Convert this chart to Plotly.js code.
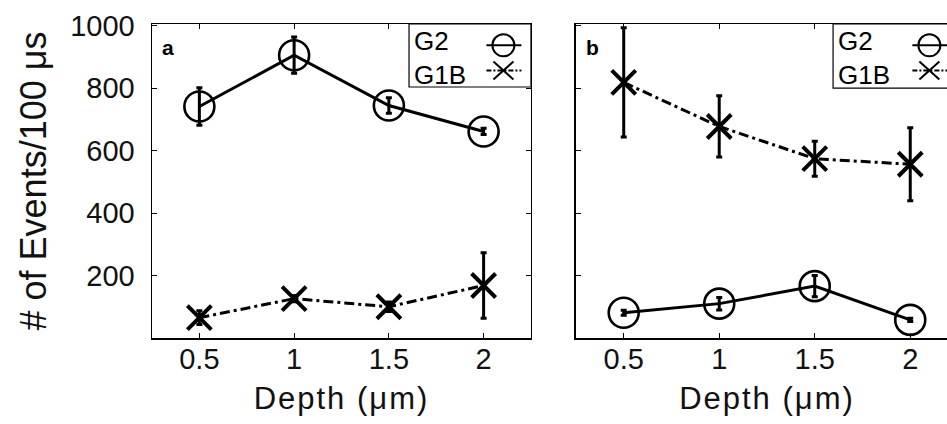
<!DOCTYPE html>
<html>
<head>
<meta charset="utf-8">
<script src="https://cdn.plot.ly/plotly-3.0.1.min.js"></script>
<style>
html, body { margin: 0; padding: 0; overflow: hidden; background: #fff; width: 947px; height: 424px; }
#chart { width: 960px; height: 424px; }
.g-xtitle text, .g-x2title text { letter-spacing: 2px; }
</style>
</head>
<body>
<div id="chart"></div>
<script>
// ---- data ----
const depth = [0.5, 1, 1.5, 2];
const depthTicks = [0.5, 1, 1.5, 2];
const depthTickText = ['0.5', '1', '1.5', '2'];
const countTicks = [200, 400, 600, 800, 1000];

// panel a
const aG2 = [741, 905, 744, 661];
const aG2Err = [60, 58, 25, 10];
const aG1B = [65, 126, 100, 168];
const aG1BErr = [22, 10, 15, 105];

// panel b
const bG2 = [81, 110, 166, 58];
const bG2Err = [8, 20, 34, 5];
const bG1B = [818, 677, 574, 556];
const bG1BErr = [175, 98, 56, 117];

const seriesNames = ['G2', 'G1B'];
const panelLabels = ['a', 'b'];

// ---- styles ----
const FONT = 'Liberation Sans, Arial, sans-serif';
const dashDot = '10px,4px,3px,4px';

function g2Trace(y, err, xa, ya) {
  return {
    x: depth, y: y, xaxis: xa, yaxis: ya, type: 'scatter', mode: 'lines+markers',
    name: seriesNames[0], showlegend: false,
    line: {color: '#000', width: 3},
    marker: {symbol: 'circle-open', size: 30, color: '#000', line: {width: 2.6, color: '#000'}},
    error_y: {type: 'data', array: err, visible: true, color: '#000', thickness: 3, width: 3}
  };
}
function g1bTrace(y, err, xa, ya) {
  return {
    x: depth, y: y, xaxis: xa, yaxis: ya, type: 'scatter', mode: 'lines+markers',
    name: seriesNames[1], showlegend: false,
    line: {color: '#000', width: 3, dash: dashDot},
    marker: {symbol: 'x-thin-open', size: 24, color: '#000', line: {width: 4, color: '#000'}},
    error_y: {type: 'data', array: err, visible: true, color: '#000', thickness: 3, width: 3}
  };
}

const traces = [
  g2Trace(aG2, aG2Err, 'x', 'y'),
  g1bTrace(aG1B, aG1BErr, 'x', 'y'),
  g1bTrace(bG1B, bG1BErr, 'x2', 'y2'),
  g2Trace(bG2, bG2Err, 'x2', 'y2')
];

const axBase = {
  showline: true, linecolor: '#000', linewidth: 1.5, mirror: 'ticks',
  ticks: 'inside', ticklen: 5, tickwidth: 1, tickcolor: '#000',
  showgrid: false, zeroline: false,
  tickfont: {family: FONT, size: 29, color: '#111'}
};

const xTitle = {text: 'Depth (μm)', font: {family: FONT, size: 31, color: '#111'}, standoff: 13};

const layout = {
  width: 960, height: 424,
  margin: {l: 152, r: 2, t: 24, b: 86},
  paper_bgcolor: '#fff', plot_bgcolor: '#fff',
  showlegend: false,
  xaxis: Object.assign({}, axBase, {domain: [0, 0.4702], range: [0.25, 2.25], tickvals: depthTicks, ticktext: depthTickText, anchor: 'y', title: xTitle, ticklabelstandoff: -5}),
  yaxis: Object.assign({}, axBase, {domain: [0, 1], range: [0, 1005], tickvals: countTicks, anchor: 'x', ticklabelstandoff: 10,
    title: {text: '# of Events/100 μs', font: {family: FONT, size: 36, color: '#111'}, standoff: 12}}),
  xaxis2: Object.assign({}, axBase, {domain: [0.526, 1], range: [0.25, 2.25], tickvals: depthTicks, ticktext: depthTickText, anchor: 'y2', title: xTitle, ticklabelstandoff: -5}),
  yaxis2: Object.assign({}, axBase, {domain: [0, 1], range: [0, 1005], tickvals: countTicks, showticklabels: false, anchor: 'x2'}),
  shapes: [],
  annotations: []
};

// custom legends (text left, sample right), one per panel
const legends = [
  {x0: 0.3189, x1: 0.4702, y0: 0.7994, tx: 0.322, sx: 0.436},
  {x0: 0.845, x1: 1.0, y0: 0.796, tx: 0.849, sx: 0.9645}
];
const rowY = [0.932, 0.852];
legends.forEach(function (L) {
  layout.shapes.push({type: 'rect', xref: 'paper', yref: 'paper', x0: L.x0, x1: L.x1, y0: L.y0, y1: 1,
    line: {color: '#000', width: 1.2}, fillcolor: '#fff', layer: 'above'});
  layout.annotations.push({xref: 'paper', yref: 'paper', x: L.tx, y: (rowY[0] + rowY[1]) / 2, xanchor: 'left', yanchor: 'middle',
    text: seriesNames.join('<br>'), align: 'left', showarrow: false, font: {family: FONT, size: 26, color: '#000'}});
  // G2 sample: line through open circle
  layout.shapes.push({type: 'line', xref: 'paper', yref: 'paper', xsizemode: 'pixel', ysizemode: 'pixel',
    xanchor: L.sx, yanchor: rowY[0], x0: -17, x1: 18, y0: 0, y1: 0, line: {color: '#000', width: 2}, layer: 'above'});
  layout.shapes.push({type: 'circle', xref: 'paper', yref: 'paper', xsizemode: 'pixel', ysizemode: 'pixel',
    xanchor: L.sx, yanchor: rowY[0], x0: -11, x1: 11, y0: -11, y1: 11, line: {color: '#000', width: 2}, layer: 'above'});
  // G1B sample: dash-dot line with x
  layout.shapes.push({type: 'line', xref: 'paper', yref: 'paper', xsizemode: 'pixel', ysizemode: 'pixel',
    xanchor: L.sx, yanchor: rowY[1], x0: -17, x1: 18, y0: 0, y1: 0, line: {color: '#000', width: 2, dash: '5px,2px,2px,2px'}, layer: 'above'});
  layout.shapes.push({type: 'line', xref: 'paper', yref: 'paper', xsizemode: 'pixel', ysizemode: 'pixel',
    xanchor: L.sx, yanchor: rowY[1], x0: -10, x1: 10, y0: -9, y1: 9, line: {color: '#000', width: 2}, layer: 'above'});
  layout.shapes.push({type: 'line', xref: 'paper', yref: 'paper', xsizemode: 'pixel', ysizemode: 'pixel',
    xanchor: L.sx, yanchor: rowY[1], x0: -10, x1: 10, y0: 9, y1: -9, line: {color: '#000', width: 2}, layer: 'above'});
});

// panel labels
const labelRefs = [['x domain', 'y domain'], ['x2 domain', 'y2 domain']];
panelLabels.forEach(function (t, i) {
  layout.annotations.push({xref: labelRefs[i][0], yref: labelRefs[i][1], x: 0.022, y: 0.925,
    xanchor: 'left', yanchor: 'middle', text: '<b>' + t + '</b>', showarrow: false,
    font: {family: FONT, size: 21, color: '#000'}});
});

Plotly.newPlot('chart', traces, layout, {displayModeBar: false, staticPlot: true});
</script>
</body>
</html>
